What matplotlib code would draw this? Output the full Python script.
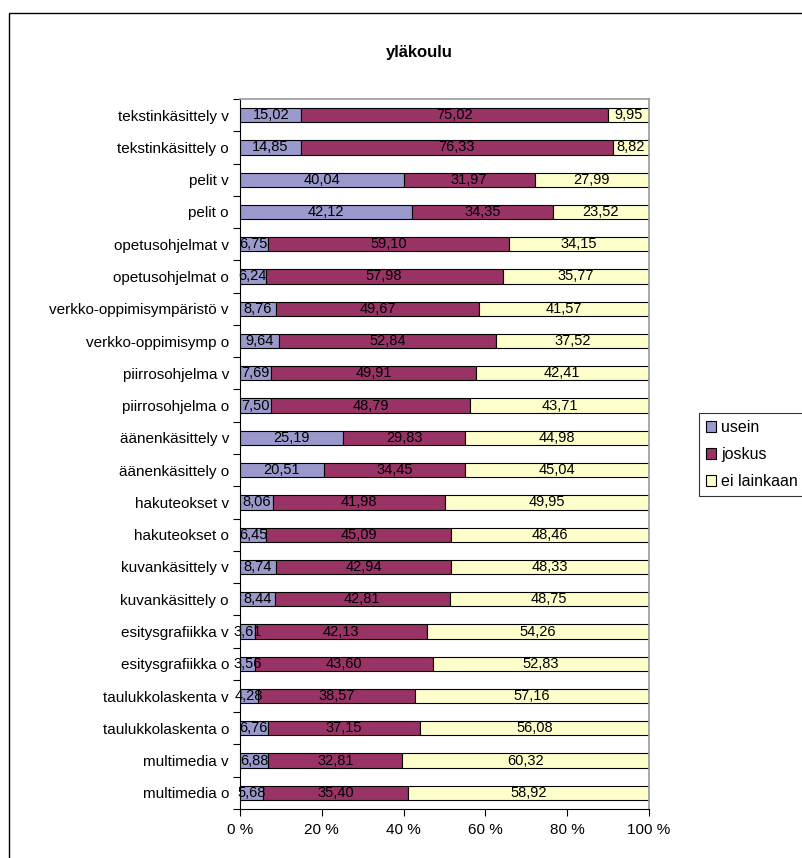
import matplotlib.pyplot as plt
import matplotlib.patches as mpatches
import numpy as np

plt.rcParams['font.family'] = ['Liberation Sans', 'DejaVu Sans']

# categories from top to bottom
categories = ['tekstinkäsittely v', 'tekstinkäsittely o', 'pelit v', 'pelit o',
              'opetusohjelmat v', 'opetusohjelmat o', 'verkko-oppimisympäristö v',
              'verkko-oppimisymp o', 'piirrosohjelma v', 'piirrosohjelma o',
              'äänenkäsittely v', 'äänenkäsittely o', 'hakuteokset v', 'hakuteokset o',
              'kuvankäsittely v', 'kuvankäsittely o', 'esitysgrafiikka v',
              'esitysgrafiikka o', 'taulukkolaskenta v', 'taulukkolaskenta o',
              'multimedia v', 'multimedia o']
usein = [15.02, 14.85, 40.04, 42.12, 6.75, 6.24, 8.76, 9.64, 7.69, 7.50,
         25.19, 20.51, 8.06, 6.45, 8.74, 8.44, 3.61, 3.56, 4.28, 6.76, 6.88, 5.68]
joskus = [75.02, 76.33, 31.97, 34.35, 59.10, 57.98, 49.67, 52.84, 49.91, 48.79,
          29.83, 34.45, 41.98, 45.09, 42.94, 42.81, 42.13, 43.60, 38.57, 37.15, 32.81, 35.40]
ei_lainkaan = [9.95, 8.82, 27.99, 23.52, 34.15, 35.77, 41.57, 37.52, 42.41, 43.71,
               44.98, 45.04, 49.95, 48.46, 48.33, 48.75, 54.26, 52.83, 57.16, 56.08, 60.32, 58.92]
series_names = ['usein', 'joskus', 'ei lainkaan']
colors = ['#9999CC', '#993366', '#FFFFCC']

fig = plt.figure(figsize=(8.02, 8.58), dpi=100)
ax = fig.add_axes([240/802, 1 - 809/858, 409/802, 710/858])

n = len(categories)
y = np.arange(n)[::-1]
data = np.array([usein, joskus, ei_lainkaan])
pct = data / data.sum(axis=0) * 100

left = np.zeros(n)
for i in range(3):
    ax.barh(y, pct[i], left=left, height=0.44, color=colors[i],
            edgecolor='black', linewidth=0.8, label=series_names[i])
    for j in range(n):
        ax.text(left[j] + pct[i][j] / 2, y[j], ('%.2f' % data[i][j]).replace('.', ','),
                ha='center', va='center', fontsize=10.5, color='black')
    left = left + pct[i]

ax.set_xlim(0, 100)
ax.set_ylim(-0.5, n - 0.5)
ax.set_xticks([0, 20, 40, 60, 80, 100])
ax.set_xticklabels(['0 %', '20 %', '40 %', '60 %', '80 %', '100 %'], fontsize=11)
ax.set_yticks(y)
ax.set_yticklabels(categories, fontsize=11)
ax.set_yticks(np.arange(-0.5, n, 1), minor=True)
ax.tick_params(axis='y', which='major', length=0, pad=8)
ax.tick_params(axis='y', which='minor', length=5, width=0.8)
ax.tick_params(axis='x', length=5, width=0.8, pad=5)

for s in ['top', 'right']:
    ax.spines[s].set_color('#999999')
    ax.spines[s].set_linewidth(1.2)
for s in ['left', 'bottom']:
    ax.spines[s].set_color('black')
    ax.spines[s].set_linewidth(0.8)

fig.text(419/802, 1 - 52/858, 'yläkoulu', ha='center', va='center',
         fontsize=12, fontweight='bold')

handles = [mpatches.Patch(facecolor=c, edgecolor='black', linewidth=0.8) for c in colors]
leg = fig.legend(handles, series_names, loc='upper left',
                 bbox_to_anchor=(699/802, 1 - 413/858), fontsize=11.5,
                 frameon=True, fancybox=False, edgecolor='black',
                 handlelength=0.6, handleheight=0.6, handletextpad=0.35,
                 labelspacing=0.75, borderpad=0.45, borderaxespad=0)
leg.get_frame().set_linewidth(0.8)

# outer chart border
fig.patches.append(mpatches.Rectangle((9/802, -0.1), 1.0, 1 - 13/858 + 0.1,
                                      transform=fig.transFigure, fill=False,
                                      edgecolor='black', linewidth=1.0))

fig.savefig('out.png', dpi=100)
